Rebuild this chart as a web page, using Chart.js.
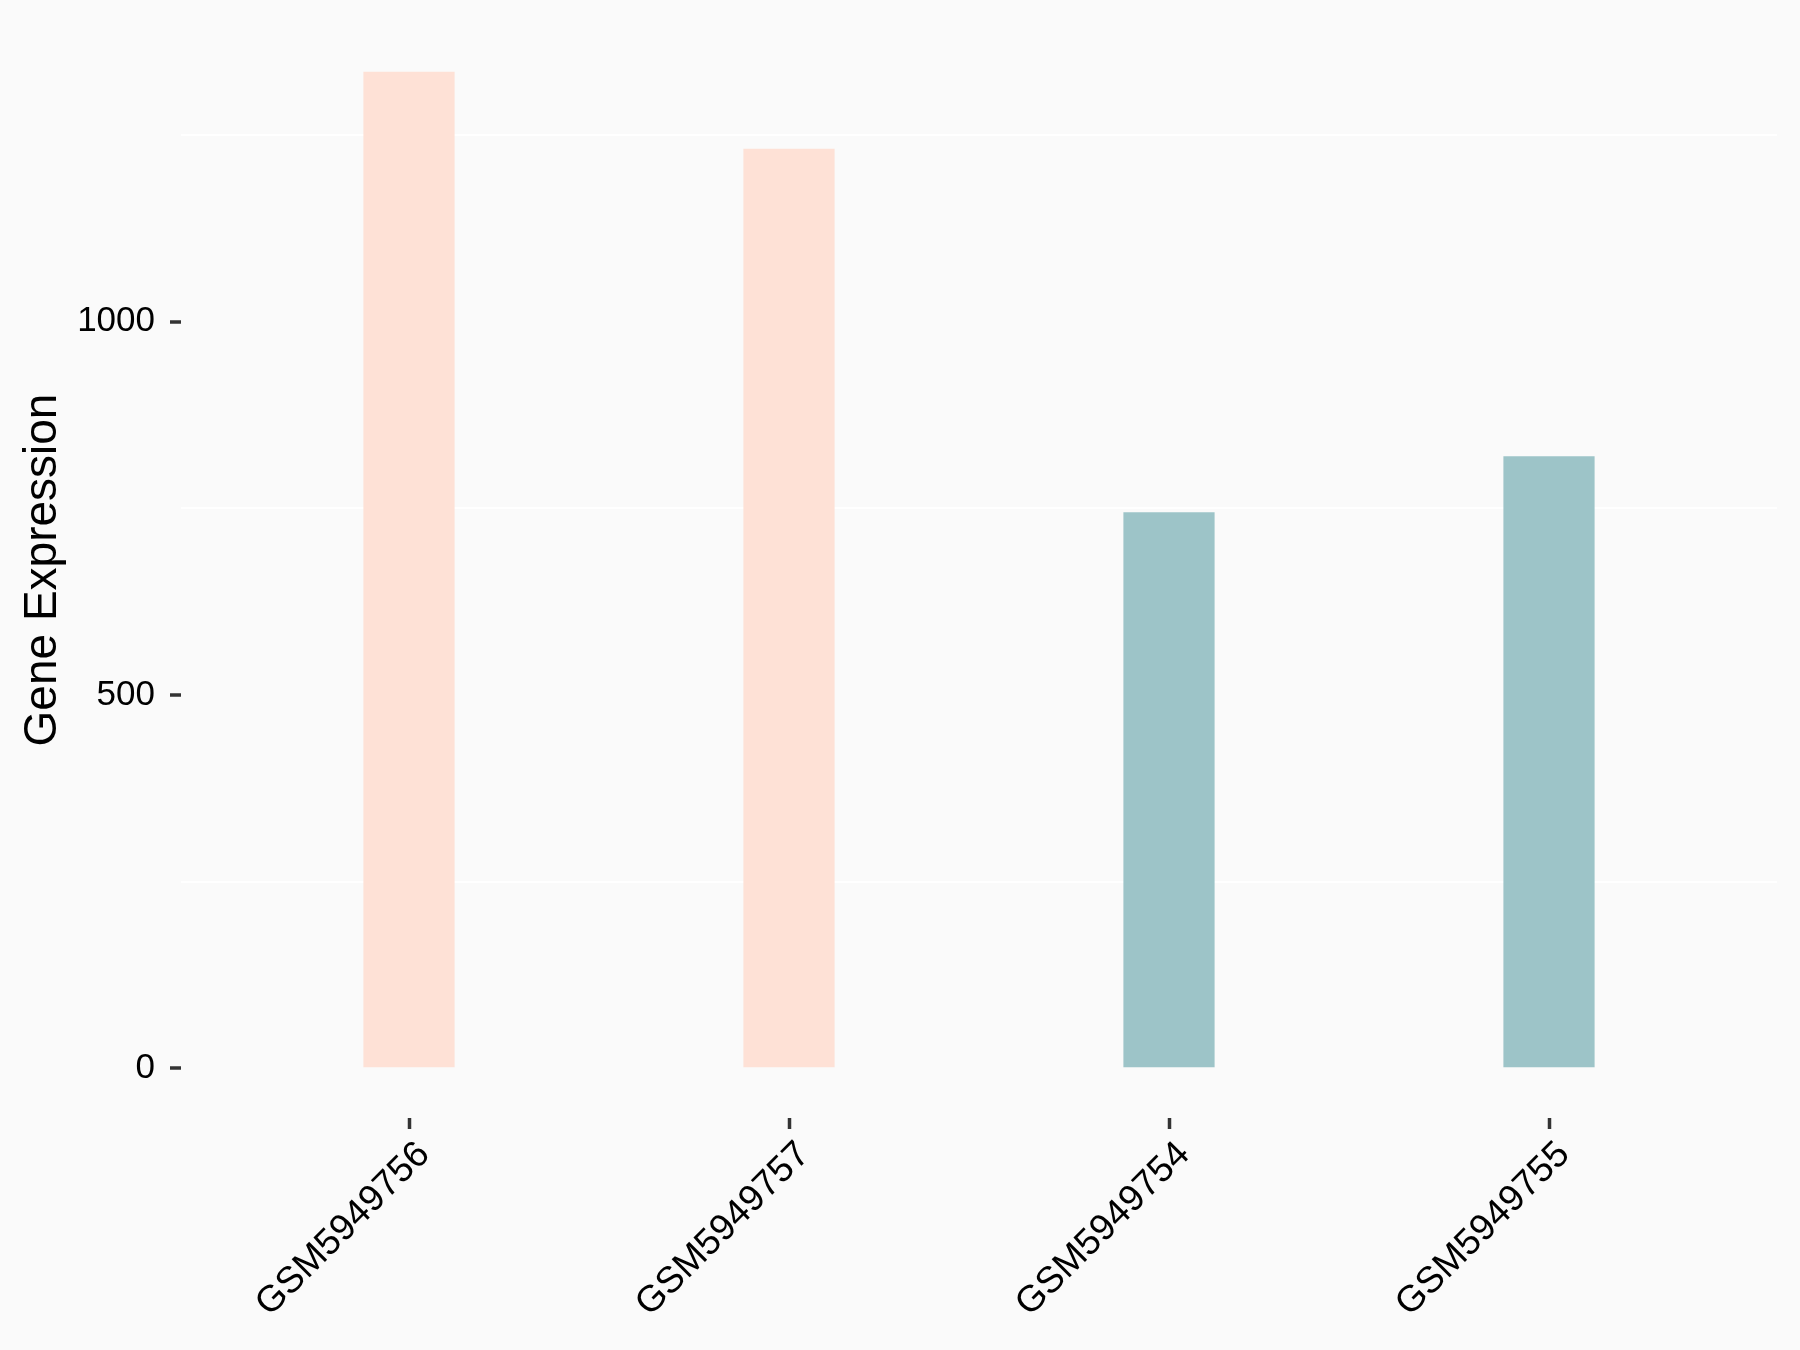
<!DOCTYPE html>
<html>
<head>
<meta charset="utf-8">
<title>Gene Expression</title>
<script src="https://cdn.jsdelivr.net/npm/chart.js@4/dist/chart.umd.min.js"></script>
<style>
  html, body { margin: 0; padding: 0; background: #FAFAFA; }
  #wrap { width: 1800px; height: 1350px; }
</style>
</head>
<body>
<div id="wrap"><canvas id="myChart" width="1800" height="1350"></canvas></div>
<script>
'use strict';

// ***** DATA *****
let sampleNames = ['GSM5949756', 'GSM5949757', 'GSM5949754', 'GSM5949755'];
let samplePos = [1, 2, 3, 4];
let expressionValues = [1335, 1232, 745, 820];
let sampleGroups = ['A', 'A', 'B', 'B'];

// tick labels on y and the lighter grid lines between them
let yTickLabels = [0, 500, 1000];
let yMinorLines = [250, 750, 1250];

// ***** STYLE *****
let groupColors = { A: '#FEE1D6', B: '#9DC4C8' };
let fontName = '"Liberation Sans", Arial, sans-serif';

// ggplot-like expansion of the y range (5%) and discrete x range (0.6)
let yTop = Math.max(...expressionValues);
let yPad = yTop * 0.05;

const ctx = document.getElementById('myChart').getContext('2d');

let barData = [];
for (let i = 0; i < sampleNames.length; i++) {
  barData.push({ x: samplePos[i], y: expressionValues[i] });
}

const chartObj = {
  type: 'bar',
  data: {
    datasets: [{
      data: barData,
      backgroundColor: sampleGroups.map(g => groupColors[g]),
      borderWidth: 0,
      barPercentage: 0.24,
      categoryPercentage: 1
    }]
  },
  options: {
    responsive: false,
    animation: false,
    layout: { padding: { left: 0, right: 23, top: 22, bottom: 0 } },
    plugins: {
      legend: { display: false },
      tooltip: { enabled: false }
    },
    scales: {
      x: {
        type: 'linear',
        min: 0.4,
        max: sampleNames.length + 0.6,
        offset: false,
        afterBuildTicks: function (scale) {
          scale.ticks = samplePos.map(v => ({ value: v }));
        },
        afterFit: function (scale) {
          scale.height = 232;
        },
        grid: {
          display: true,
          drawOnChartArea: false,
          drawTicks: true,
          tickLength: 11,
          tickWidth: 3.5,
          tickColor: '#333333',
          offset: false
        },
        border: { display: false },
        ticks: {
          autoSkip: false,
          minRotation: 45,
          maxRotation: 45,
          padding: 4,
          labelOffset: 15,
          color: '#000000',
          font: { family: fontName, size: 37 },
          callback: function (value) {
            return sampleNames[value - 1];
          }
        }
      },
      y: {
        min: -yPad,
        max: yTop + yPad,
        afterBuildTicks: function (scale) {
          scale.ticks = yTickLabels.concat(yMinorLines).sort((a, b) => a - b).map(v => ({ value: v }));
        },
        afterFit: function (scale) {
          scale.width = 181;
          // keep the plot panel where the layout padding puts it
          scale.paddingTop = 0;
          scale.paddingBottom = 0;
        },
        grid: {
          drawTicks: true,
          tickLength: 11,
          tickWidth: 3.5,
          lineWidth: 2,
          color: function (c) {
            return yMinorLines.includes(c.tick.value) ? '#FFFFFF' : 'rgba(0,0,0,0)';
          },
          tickColor: function (c) {
            return yTickLabels.includes(c.tick.value) ? '#333333' : 'rgba(0,0,0,0)';
          }
        },
        border: { display: false },
        ticks: {
          padding: 15,
          color: '#000000',
          font: { family: fontName, size: 35 },
          callback: function (value) {
            return yTickLabels.includes(value) ? String(value) : '';
          }
        },
        title: {
          display: true,
          text: 'Gene Expression',
          color: '#000000',
          font: { family: fontName, size: 46 },
          padding: { top: 16, bottom: 0 }
        }
      }
    }
  }
};

const myChart = new Chart(ctx, chartObj); // eslint-disable-line
</script>
</body>
</html>
